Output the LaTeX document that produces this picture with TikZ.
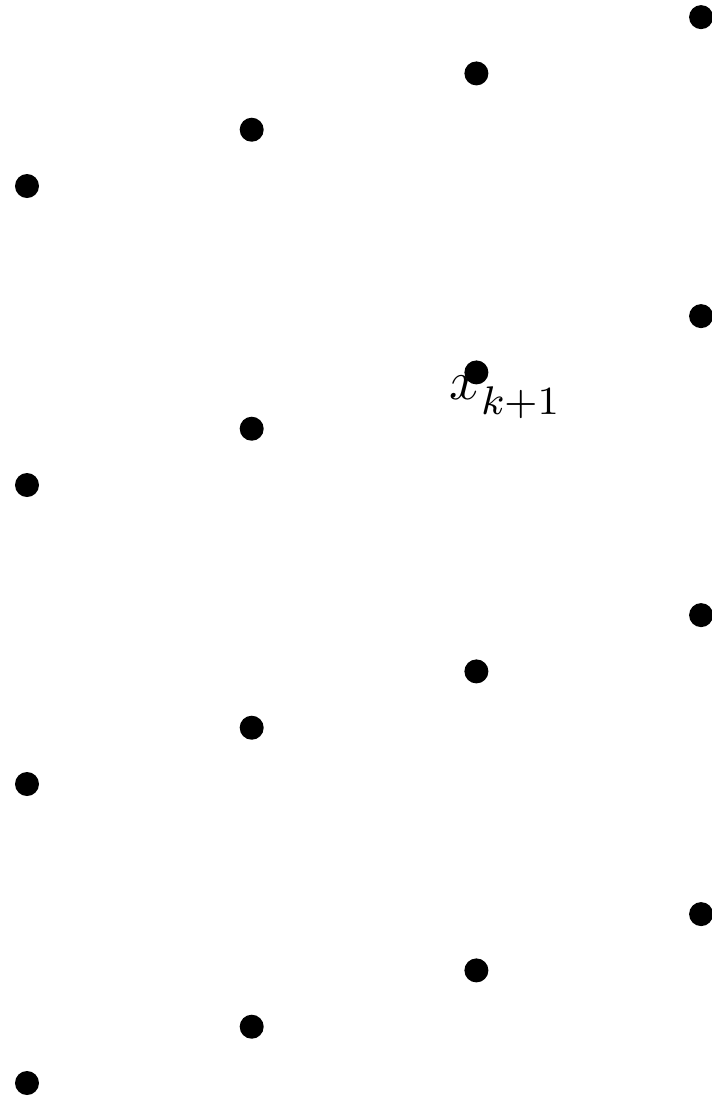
\documentclass[tikz,border=0pt]{standalone}
\begin{document}
\begin{tikzpicture}[x=0.2pt,y=-0.2pt,
  pt/.style={circle,fill=black,inner sep=0pt,minimum size=4.8pt}]
\useasboundingbox (0,0) rectangle (711,1099);
\foreach \i in {0,1,2,3}{
  \foreach \j in {0,1,2,3}{
    \node[pt] (p\i\j) at ({27+224.7*\i},{186-56.3*\i+299*\j}) {};
  }
}
\node[anchor=base west,inner sep=0pt,font=\fontsize{11}{13}\selectfont] (lbl) at (449,399) {$x_{\raisebox{-1.4pt}{$\scriptstyle k+1$}}$};
\end{tikzpicture}
\end{document}
